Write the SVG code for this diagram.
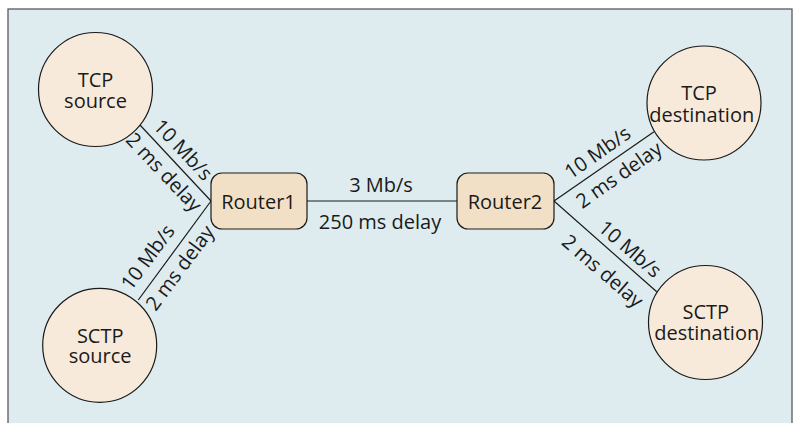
<svg xmlns="http://www.w3.org/2000/svg" width="796" height="423" viewBox="0 0 796 423">
<style>
.t{font-family:"Open Sans","Noto Sans","Liberation Sans",sans-serif;font-size:20px;fill:#1a1a1a;text-anchor:middle}
.host{fill:#f7eadb;stroke:#1a1a1a;stroke-width:1.2}
.rtr{fill:#f2e0c6;stroke:#1a1a1a;stroke-width:1.2}
.ln{stroke:#1a1a1a;stroke-width:1.2;fill:none}
</style>
<rect x="8" y="9" width="784" height="420" fill="#deecf0" stroke="#5a5a5a" stroke-width="1.3"/>
<g id="connectors">
<line class="ln" x1="140" y1="125" x2="211" y2="201"/>
<line class="ln" x1="138.3" y1="300" x2="211" y2="201"/>
<line class="ln" x1="307" y1="201" x2="457" y2="201"/>
<line class="ln" x1="554" y1="201" x2="654" y2="131.7"/>
<line class="ln" x1="554" y1="201" x2="656.7" y2="291.7"/>
<text class="t" x="381" y="191.7">3 Mb/s</text>
<text class="t" x="380" y="229">250 ms delay</text>
<text class="t" transform="translate(178.1,154.5) rotate(46.6)">10 Mb/s</text>
<text class="t" transform="translate(159,177) rotate(46.6)">2 ms delay</text>
<text class="t" transform="translate(153.3,261.3) rotate(-53.4)">10 Mb/s</text>
<text class="t" transform="translate(185.5,272) rotate(-53.4)">2 ms delay</text>
<text class="t" transform="translate(601.5,158.2) rotate(-35)">10 Mb/s</text>
<text class="t" transform="translate(622.9,180.6) rotate(-35)">2 ms delay</text>
<text class="t" transform="translate(625.4,254.3) rotate(40.7)">10 Mb/s</text>
<text class="t" transform="translate(598.2,276.3) rotate(40.7)">2 ms delay</text>
</g>
<g id="tcp-source">
<circle class="host" cx="95.5" cy="89.5" r="57"/>
<text class="t"><tspan x="95.5" y="87.3">TCP</tspan><tspan x="95.5" y="108">source</tspan></text>
</g>
<g id="sctp-source">
<circle class="host" cx="99.7" cy="345.3" r="57"/>
<text class="t"><tspan x="100.2" y="342.7">SCTP</tspan><tspan x="100.2" y="363.3">source</tspan></text>
</g>
<g id="router1">
<rect class="rtr" x="211" y="173" width="96" height="56" rx="11"/>
<text class="t" x="258.5" y="209">Router1</text>
</g>
<g id="router2">
<rect class="rtr" x="457" y="173" width="97" height="56" rx="11"/>
<text class="t" x="505" y="209">Router2</text>
</g>
<g id="tcp-destination">
<circle class="host" cx="704" cy="103" r="57"/>
<text class="t"><tspan x="699" y="100">TCP</tspan><tspan x="701.7" y="121.5">destination</tspan></text>
</g>
<g id="sctp-destination">
<circle class="host" cx="705.5" cy="322.5" r="57"/>
<text class="t"><tspan x="705.8" y="319.3">SCTP</tspan><tspan x="706.7" y="340">destination</tspan></text>
</g>
</svg>
